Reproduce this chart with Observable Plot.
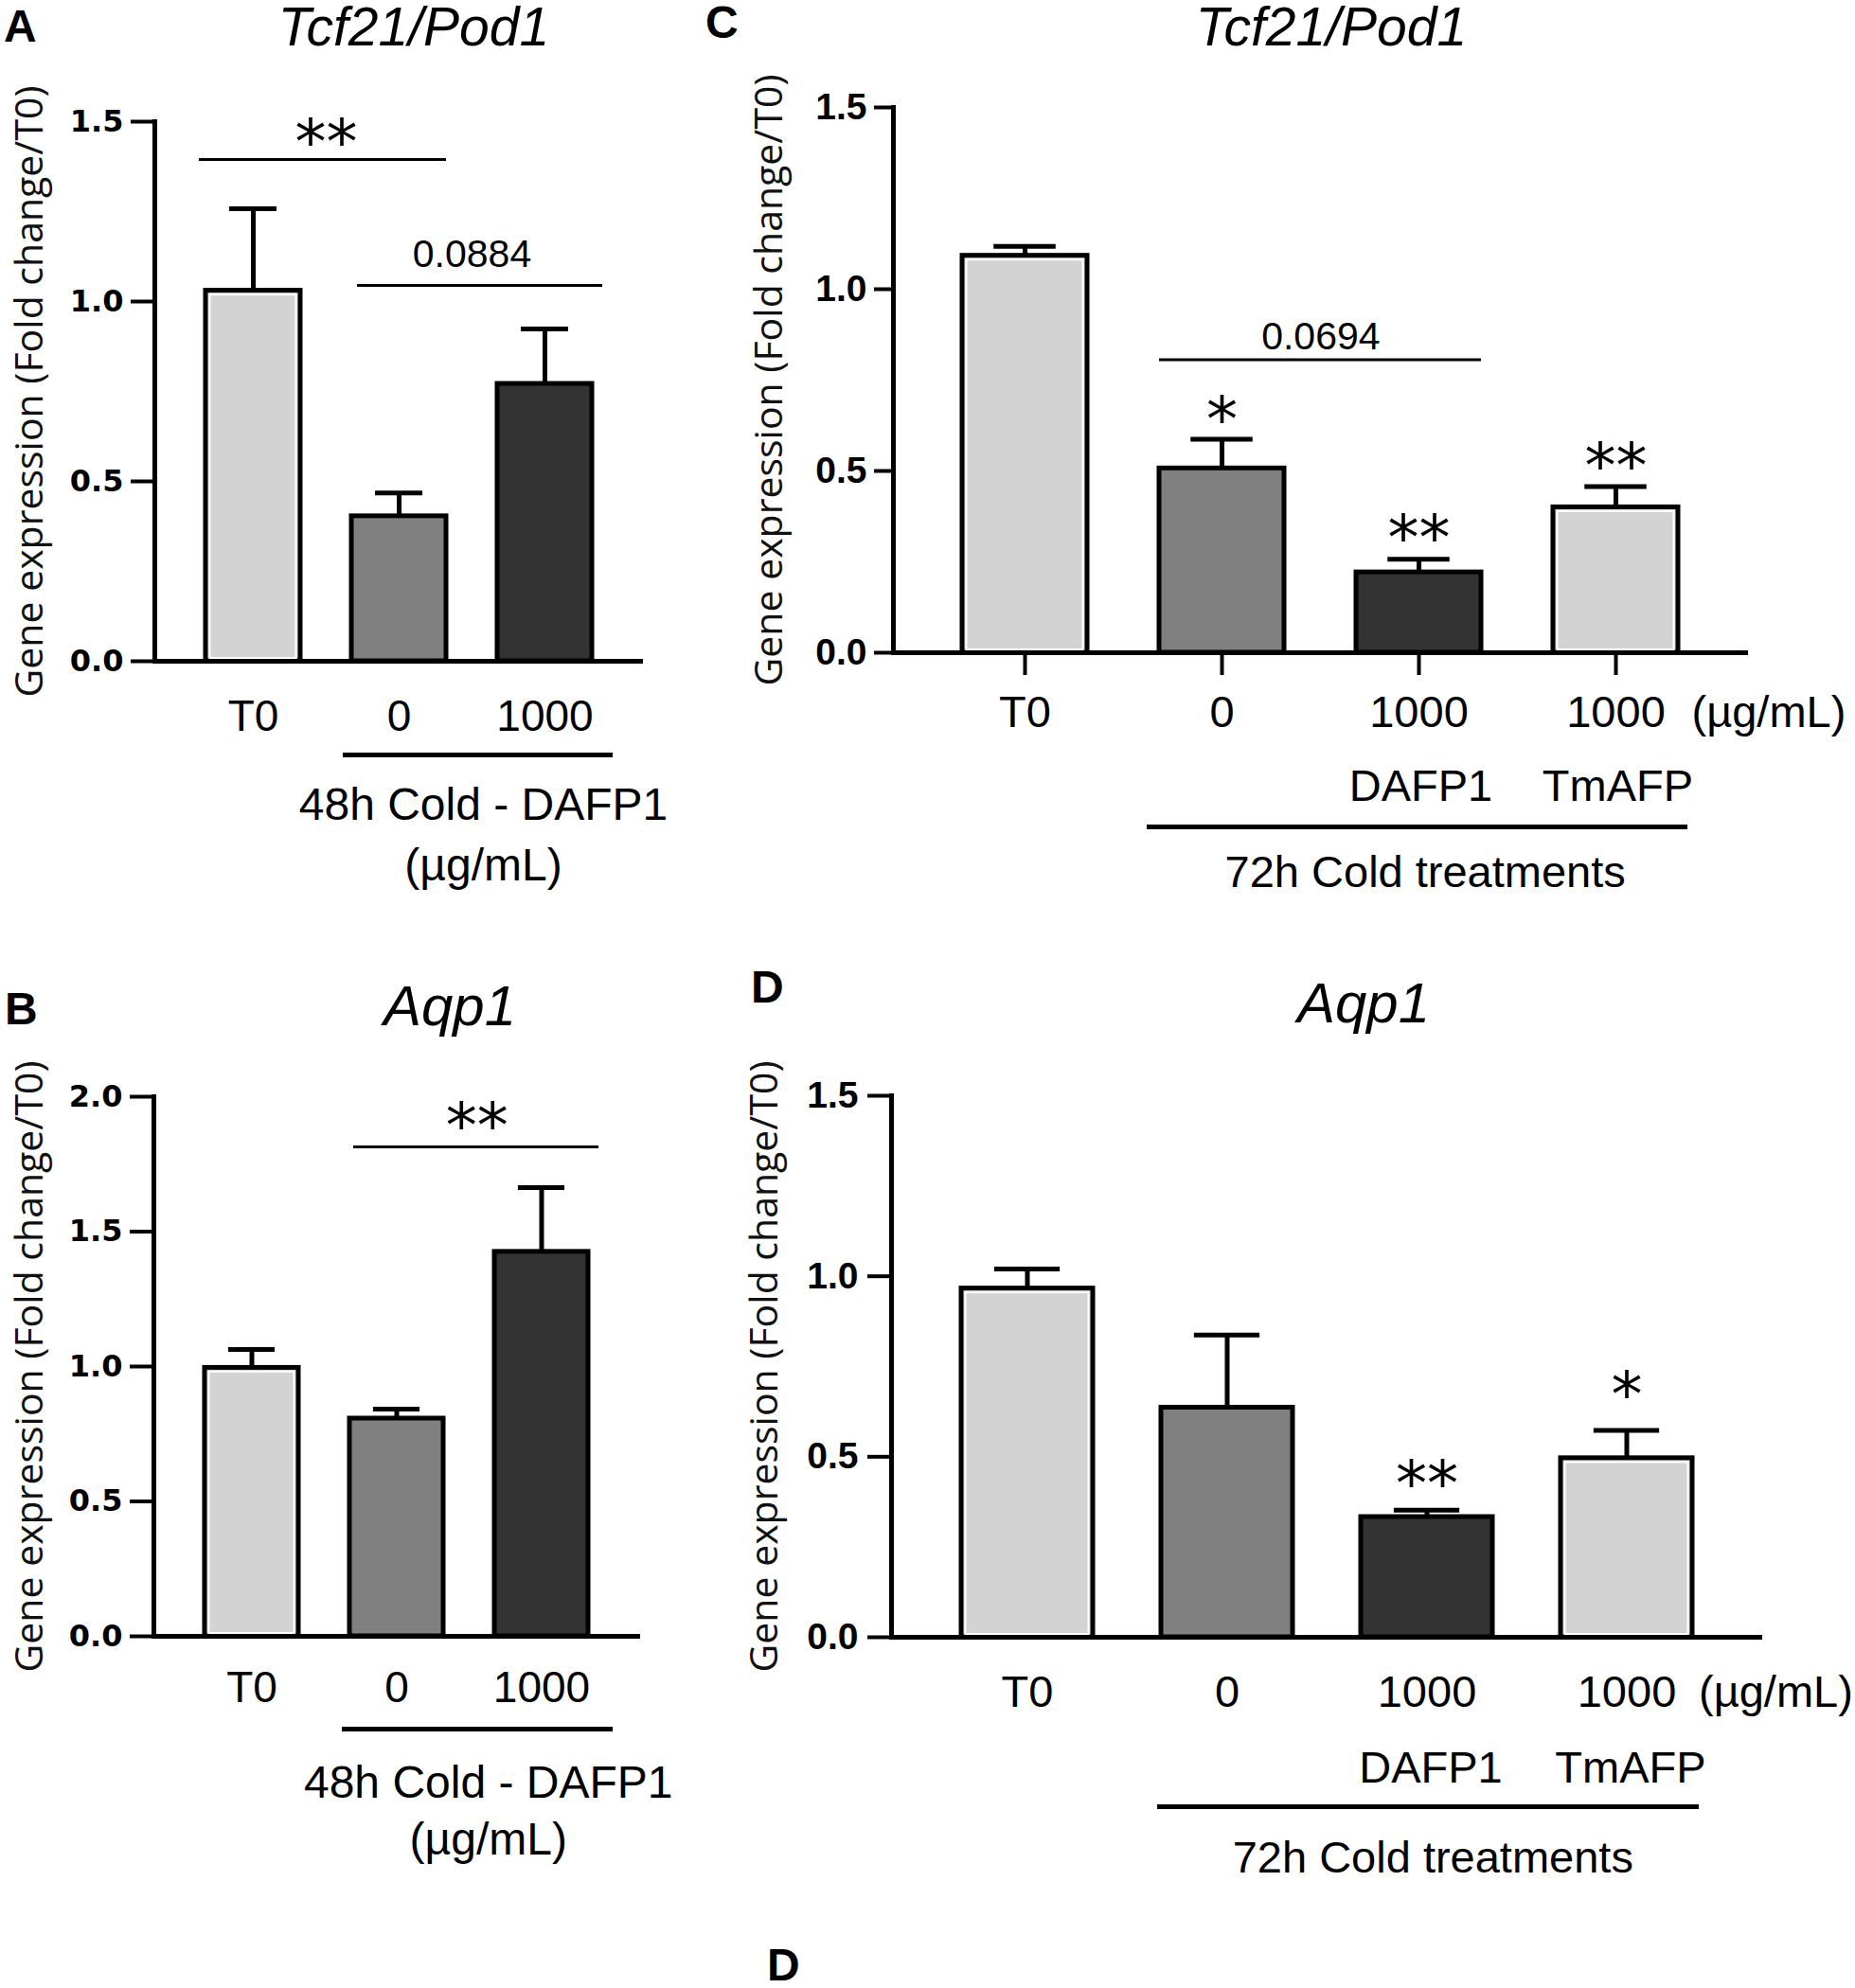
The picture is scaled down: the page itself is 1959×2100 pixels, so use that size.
<!DOCTYPE html>
<html>
<head>
<meta charset="utf-8">
<script src="https://cdn.jsdelivr.net/npm/d3@7"></script>
<script src="https://cdn.jsdelivr.net/npm/@observablehq/plot@0.6"></script>
<style>
  html, body { margin: 0; padding: 0; background: #fff; }
  body { position: relative; width: 1959px; height: 2100px; overflow: hidden; }
  .abs { position: absolute; white-space: nowrap; line-height: 1; color: #000; }
  .title { font-family: "Liberation Sans", Arial, sans-serif; font-style: italic; width: 600px; text-align: center; }
  .letter { font-family: "Liberation Sans", Arial, sans-serif; font-weight: bold; font-size: 48px; }
  .panel { position: absolute; }
</style>
</head>
<body>
<script>
// ---------------- DATA ----------------
const panelLetters = ["A", "B", "C", "D", "D"];
const panelTitles = ["Tcf21/Pod1", "Aqp1", "Tcf21/Pod1", "Aqp1"];
const yLabel = "Gene expression (Fold change/T0)";

// Panels A & B : 48h cold
const abCategories = ["T0", "0", "1000"];
const abTickLabels = ["T0", "0", "1000"];
const abGroupLabel = ["48h Cold - DAFP1", "(µg/mL)"];

const aMeans = [1.03, 0.403, 0.771];
const aSEM = [0.228, 0.065, 0.153];
const aTicks = [0, 0.5, 1.0, 1.5];
const aBrackets = [
  {from: "T0", to: "0", level: 1.395, label: "**"},
  {from: "0", to: "1000", level: 1.045, label: "0.0884"}
];

const bMeans = [0.995, 0.807, 1.425];
const bSEM = [0.068, 0.035, 0.238];
const bTicks = [0, 0.5, 1.0, 1.5, 2.0];
const bBrackets = [
  {from: "0", to: "1000", level: 1.814, label: "**"}
];

// Panels C & D : 72h cold
const cdCategories = ["T0", "0", "DAFP1", "TmAFP"];
const cdTickLabels = ["T0", "0", "1000", "1000"];
const cdSubLabels = ["", "", "DAFP1", "TmAFP"];
const cdUnit = "(µg/mL)";
const cdGroupLabel = "72h Cold treatments";

const cMeans = [1.092, 0.507, 0.221, 0.400];
const cSEM = [0.026, 0.080, 0.036, 0.057];
const cTicks = [0, 0.5, 1.0, 1.5];
const cBrackets = [
  {from: "0", to: "DAFP1", level: 0.806, label: "0.0694"}
];
const cStars = [
  {cat: "0", level: 0.681, label: "*"},
  {cat: "DAFP1", level: 0.356, label: "**"},
  {cat: "TmAFP", level: 0.554, label: "**"}
];

const dMeans = [0.966, 0.636, 0.333, 0.496];
const dSEM = [0.054, 0.201, 0.019, 0.077];
const dTicks = [0, 0.5, 1.0, 1.5];
const dStars = [
  {cat: "DAFP1", level: 0.465, label: "**"},
  {cat: "TmAFP", level: 0.714, label: "*"}
];

// ---------------- STYLE ----------------
const LIGHT = "#d3d3d3", MID = "#808080", DARK = "#333333";
const abColors = [LIGHT, MID, DARK];
const cdColors = [LIGHT, MID, DARK, LIGHT];
const SANS = '"Liberation Sans", Arial, Helvetica, sans-serif';
const LABELFONT = '"Open Sans", "Liberation Sans", sans-serif';
const STARFONT = '"DejaVu Sans", sans-serif';
const STARSIZE = 66;
const STARMID = 0.58; // glyph centre above baseline, in em

function buildPanel(cfg) {
  const L = cfg.layout;
  const n = cfg.cats.length;
  const fw = L.width - L.marginLeft - L.marginRight;
  const step = fw / (n - L.pi + 2 * L.po);
  const bw = step * (1 - L.pi);
  const idx = c => cfg.cats.indexOf(c);
  const rows = cfg.cats.map((c, i) => ({
    cat: c, mean: cfg.means[i], top: cfg.means[i] + cfg.sems[i],
    tick: cfg.tickLabels[i], sub: cfg.subLabels ? cfg.subLabels[i] : "",
    light: cfg.colors[i] === LIGHT
  }));

  const marks = [];
  // bars
  marks.push(Plot.barY(rows, {x: "cat", y: "mean", fill: "cat", stroke: "#000", strokeWidth: 5}));
  marks.push(Plot.barY(rows.filter(r => r.light), {x: "cat", y: "mean", fill: "none", stroke: "#fff", strokeWidth: 2,
    insetLeft: 4.5, insetRight: 4.5, insetTop: 4.5, insetBottom: 3}));
  // error bars (upper only)
  marks.push(Plot.ruleX(rows, {x: "cat", y1: "mean", y2: "top", strokeWidth: 5}));
  marks.push(Plot.tickY(rows, {x: "cat", y: "top", strokeWidth: 5, insetLeft: bw * 0.25, insetRight: bw * 0.25}));

  // axes
  marks.push(Plot.frame({anchor: "left", strokeWidth: 5}));
  marks.push(Plot.ruleY([0], {strokeWidth: 5}));
  marks.push(Plot.axisY({
    ticks: cfg.yTicks, tickFormat: d3.format(".1f"), tickSize: L.yTickSize, tickPadding: L.yTickPadding,
    strokeWidth: 4, fontSize: L.yFontSize, fontWeight: "bold", fontFamily: L.yFont, label: null
  }));
  marks.push(Plot.axisX({
    tickSize: L.xTickSize, tickPadding: L.xTickPadding, strokeWidth: 4,
    tickFormat: d => cfg.tickLabels[idx(d)], fontSize: L.xFontSize, fontFamily: SANS, label: null
  }));

  // y label
  marks.push(Plot.text([yLabel], {
    text: d => d, frameAnchor: "left", rotate: -90, dx: L.yLabelDx, lineAnchor: "bottom",
    textAnchor: "middle", fontSize: 41, fontFamily: LABELFONT, fill: "#111"
  }));

  // significance brackets
  (cfg.brackets || []).forEach((b, k) => {
    const half = (idx(b.to) - idx(b.from)) * step / 2;
    const ins = (L.bracketInsets && L.bracketInsets[k]) || [0, 0];
    const isStar = /^\*+$/.test(b.label);
    marks.push(Plot.ruleY([b], {x1: "from", x2: "to", y: "level", strokeWidth: 3, insetLeft: ins[0], insetRight: ins[1]}));
    marks.push(Plot.text([b], {
      x: "from", y: "level", text: "label", dx: half + (L.bracketTextDx || 0),
      dy: isStar ? -L.starGap + STARMID * STARSIZE : -L.numGap,
      lineAnchor: "bottom", textAnchor: "middle",
      fontSize: isStar ? STARSIZE : 41, fontFamily: isStar ? STARFONT : SANS
    }));
  });
  // stars above bars
  if (cfg.stars) {
    marks.push(Plot.text(cfg.stars, {
      x: "cat", y: "level", text: "label", dy: STARMID * STARSIZE, lineAnchor: "bottom",
      fontSize: STARSIZE, fontFamily: STARFONT
    }));
  }

  // group underline and labels
  const g = cfg.group;
  marks.push(Plot.ruleY([{from: g.from, to: g.to, y0: 0}], {
    x1: "from", x2: "to", y: "y0", dy: g.lineDy, strokeWidth: 5,
    insetLeft: g.insetLeft, insetRight: g.insetRight
  }));
  const gCenter = (idx(g.to) - idx(g.from)) * step / 2;
  g.lines.forEach((line, i) => {
    marks.push(Plot.text([{cat: g.from, line}], {
      x: "cat", text: "line", frameAnchor: "bottom", dx: gCenter + g.textDx, dy: g.textDy[i],
      lineAnchor: "bottom", fontSize: L.groupFontSize, fontFamily: SANS
    }));
  });
  if (cfg.subLabels) {
    marks.push(Plot.text(rows.filter(r => r.sub), {
      x: "cat", text: "sub", frameAnchor: "bottom", dx: L.subDx, dy: L.subDy,
      lineAnchor: "bottom", fontSize: L.xFontSize, fontFamily: SANS
    }));
    marks.push(Plot.text([{cat: cfg.cats[n - 1], u: cdUnit}], {
      x: "cat", text: "u", frameAnchor: "bottom", dx: L.unitDx, dy: L.unitDy,
      textAnchor: "start", lineAnchor: "bottom", fontSize: L.xFontSize, fontFamily: SANS
    }));
  }

  const svg = Plot.plot({
    width: L.width, height: L.height,
    marginLeft: L.marginLeft, marginRight: L.marginRight, marginTop: L.marginTop, marginBottom: L.marginBottom,
    x: {type: "band", domain: cfg.cats, paddingInner: L.pi, paddingOuter: L.po},
    y: {domain: [0, cfg.yMax]},
    color: {domain: cfg.cats, range: cfg.colors},
    style: {background: "transparent", overflow: "visible"},
    marks
  });
  const div = document.createElement("div");
  div.className = "panel";
  div.style.left = L.left + "px";
  div.style.top = L.top + "px";
  div.style.width = L.width + "px";
  div.appendChild(svg);
  document.body.appendChild(div);
}

const abBase = {pi: 0.35, po: 0.35, yTickSize: 25, yTickPadding: 8, yFontSize: 32, yFont: '"DejaVu Sans", sans-serif',
  xTickSize: 0, xFontSize: 46, groupFontSize: 48, starGap: 34, numGap: 19};
const cdBase = {pi: 0.35, po: 0.345, yTickSize: 20, yTickPadding: 8, yFontSize: 39, yFont: SANS,
  xFontSize: 47, groupFontSize: 47, starGap: 38, numGap: 11};

// Panel A
buildPanel({
  cats: abCategories, tickLabels: abTickLabels, means: aMeans, sems: aSEM, colors: abColors,
  yMax: 1.5, yTicks: aTicks, brackets: aBrackets,
  group: {from: "0", to: "1000", lineDy: 99, insetLeft: -9, insetRight: -22, lines: abGroupLabel, textDx: 12, textDy: [167, 231]},
  layout: Object.assign({}, abBase, {left: 0, top: 60, width: 740, height: 930, marginLeft: 163, marginRight: 61,
    marginTop: 68, marginBottom: 292, xTickPadding: 41, yLabelDx: -119, bracketInsets: [[-7, 0], [6, -11]]})
});
// Panel B
buildPanel({
  cats: abCategories, tickLabels: abTickLabels, means: bMeans, sems: bSEM, colors: abColors,
  yMax: 2.0, yTicks: bTicks, brackets: bBrackets,
  group: {from: "0", to: "1000", lineDy: 98, insetLeft: -8, insetRight: -26, lines: abGroupLabel, textDx: 20, textDy: [170, 230]},
  layout: Object.assign({}, abBase, {left: 0, top: 1100, width: 740, height: 900, marginLeft: 162, marginRight: 64,
    marginTop: 58, marginBottom: 272, xTickPadding: 37, starGap: 38, yLabelDx: -118, bracketTextDx: 8,
    bracketInsets: [[4, -11]]})
});
// Panel C
buildPanel({
  cats: cdCategories, tickLabels: cdTickLabels, subLabels: cdSubLabels, means: cMeans, sems: cSEM, colors: cdColors,
  yMax: 1.5, yTicks: cTicks, brackets: cBrackets, stars: cStars,
  group: {from: "0", to: "TmAFP", lineDy: 184, insetLeft: -13, insetRight: -10, lines: [cdGroupLabel], textDx: 6, textDy: [247]},
  layout: Object.assign({}, cdBase, {left: 760, top: 60, width: 1199, height: 930, marginLeft: 183, marginRight: 113,
    marginTop: 53, marginBottom: 301, pi: 0.363, po: 0.345, xTickSize: 24, xTickPadding: 21, yLabelDx: -118,
    subDx: 2, subDy: 156, unitDx: 80, unitDy: 78})
});
// Panel D
buildPanel({
  cats: cdCategories, tickLabels: cdTickLabels, subLabels: cdSubLabels, means: dMeans, sems: dSEM, colors: cdColors,
  yMax: 1.5, yTicks: dTicks, brackets: [], stars: dStars,
  group: {from: "0", to: "TmAFP", lineDy: 179, insetLeft: -4, insetRight: -7, lines: [cdGroupLabel], textDx: 6, textDy: [248]},
  layout: Object.assign({}, cdBase, {left: 760, top: 1100, width: 1199, height: 960, marginLeft: 181, marginRight: 98,
    marginTop: 57, marginBottom: 331, pi: 0.34, po: 0.347, xTickSize: 0, xTickPadding: 40, yTickSize: 25, yTickPadding: 10,
    yLabelDx: -121, subDx: 4, subDy: 153, unitDx: 76, unitDy: 73})
});

// Titles and panel letters (HTML text above the plots)
const titlePos = [[437, 0, 57], [475, 1033, 60], [1406, 0, 57], [1440, 1030, 60]];
panelTitles.forEach((t, i) => {
  const d = document.createElement("div");
  d.className = "abs title";
  d.style.left = (titlePos[i][0] - 300) + "px";
  d.style.top = titlePos[i][1] + "px";
  d.style.fontSize = titlePos[i][2] + "px";
  d.textContent = t;
  document.body.appendChild(d);
});
const letterPos = [[4, 4], [5, 1042], [745, 0], [793, 1019], [810, 2052]];
panelLetters.forEach((t, i) => {
  const d = document.createElement("div");
  d.className = "abs letter";
  d.style.left = letterPos[i][0] + "px";
  d.style.top = letterPos[i][1] + "px";
  d.textContent = t;
  document.body.appendChild(d);
});
</script>
</body>
</html>
